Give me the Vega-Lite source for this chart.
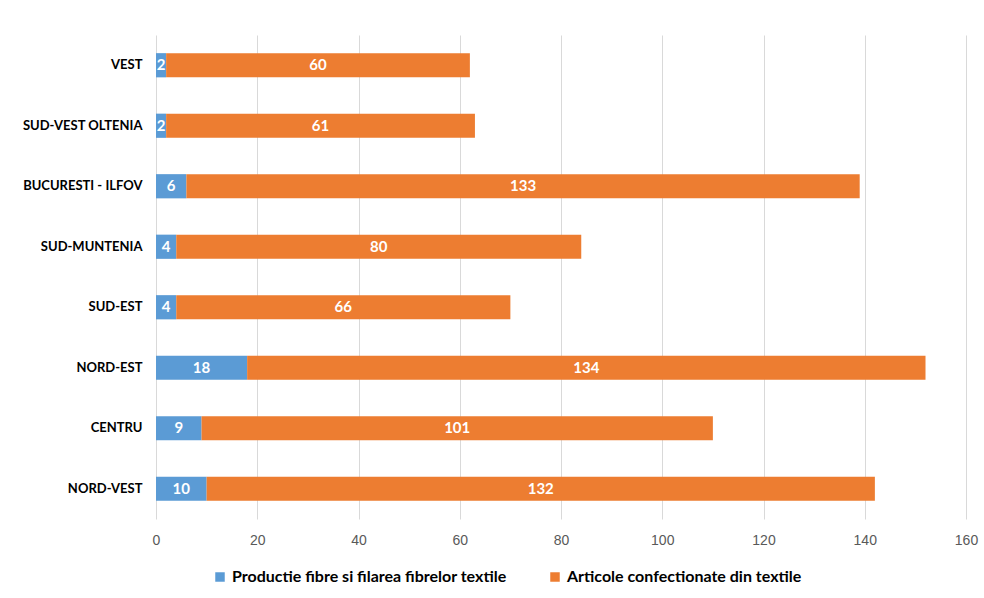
{
  "$schema": "https://vega.github.io/schema/vega-lite/v6.json",
  "width": 810,
  "height": 484,
  "autosize": {"type": "none"},
  "padding": {"left": 156, "top": 35, "right": 18, "bottom": 79},
  "background": "white",
  "config": {
    "view": {"stroke": null},
    "font": "Lato"
  },
  "data": {
    "values": [
      {"region": "VEST", "series": "Productie fibre si filarea fibrelor textile", "order": 1, "value": 2},
      {"region": "VEST", "series": "Articole confectionate din textile", "order": 2, "value": 60},
      {"region": "SUD-VEST OLTENIA", "series": "Productie fibre si filarea fibrelor textile", "order": 1, "value": 2},
      {"region": "SUD-VEST OLTENIA", "series": "Articole confectionate din textile", "order": 2, "value": 61},
      {"region": "BUCURESTI - ILFOV", "series": "Productie fibre si filarea fibrelor textile", "order": 1, "value": 6},
      {"region": "BUCURESTI - ILFOV", "series": "Articole confectionate din textile", "order": 2, "value": 133},
      {"region": "SUD-MUNTENIA", "series": "Productie fibre si filarea fibrelor textile", "order": 1, "value": 4},
      {"region": "SUD-MUNTENIA", "series": "Articole confectionate din textile", "order": 2, "value": 80},
      {"region": "SUD-EST", "series": "Productie fibre si filarea fibrelor textile", "order": 1, "value": 4},
      {"region": "SUD-EST", "series": "Articole confectionate din textile", "order": 2, "value": 66},
      {"region": "NORD-EST", "series": "Productie fibre si filarea fibrelor textile", "order": 1, "value": 18},
      {"region": "NORD-EST", "series": "Articole confectionate din textile", "order": 2, "value": 134},
      {"region": "CENTRU", "series": "Productie fibre si filarea fibrelor textile", "order": 1, "value": 9},
      {"region": "CENTRU", "series": "Articole confectionate din textile", "order": 2, "value": 101},
      {"region": "NORD-VEST", "series": "Productie fibre si filarea fibrelor textile", "order": 1, "value": 10},
      {"region": "NORD-VEST", "series": "Articole confectionate din textile", "order": 2, "value": 132}
    ]
  },
  "transform": [
    {"stack": "value", "groupby": ["region"], "sort": [{"field": "order", "order": "ascending"}], "as": ["x0", "x1"]}
  ],
  "encoding": {
    "y": {
      "field": "region",
      "type": "nominal",
      "sort": ["VEST", "SUD-VEST OLTENIA", "BUCURESTI - ILFOV", "SUD-MUNTENIA", "SUD-EST", "NORD-EST", "CENTRU", "NORD-VEST"],
      "scale": {"paddingInner": 0.6, "paddingOuter": 0.3},
      "axis": {
        "title": null,
        "domain": false,
        "ticks": false,
        "labelPadding": 14,
        "labelFont": "Lato",
        "labelFontWeight": "bold",
        "labelFontSize": 13,
        "labelColor": "#000000"
      }
    }
  },
  "layer": [
    {
      "mark": {"type": "bar"},
      "encoding": {
        "x": {
          "field": "x0",
          "type": "quantitative",
          "scale": {"domain": [0, 160], "nice": false},
          "axis": {
            "title": null,
            "values": [0, 20, 40, 60, 80, 100, 120, 140, 160],
            "domain": false,
            "ticks": false,
            "grid": true,
            "gridColor": "#d9d9d9",
            "gridWidth": 1,
            "labelFlush": false,
            "labelPadding": 14,
            "labelFontSize": 14,
            "labelColor": "#595959",
            "labelFont": "Liberation Sans"
          }
        },
        "x2": {"field": "x1"},
        "color": {
          "field": "series",
          "type": "nominal",
          "scale": {
            "domain": ["Productie fibre si filarea fibrelor textile", "Articole confectionate din textile"],
            "range": ["#5B9BD5", "#ED7D31"]
          },
          "legend": {
            "title": null,
            "orient": "none",
            "direction": "horizontal",
            "legendX": 56,
            "legendY": 534,
            "symbolType": "square",
            "symbolSize": 90,
            "symbolStrokeWidth": 0,
            "labelFontSize": 16,
            "labelFontWeight": "bold",
            "labelColor": "#000000",
            "labelFont": "Lato",
            "labelLimit": 0,
            "columnPadding": 40,
            "labelOffset": 4
          }
        }
      }
    },
    {
      "transform": [
        {"fold": ["x0", "x1"], "as": ["edge", "pos"]},
        {"aggregate": [{"op": "mean", "field": "pos", "as": "mid"}], "groupby": ["region", "series", "value"]}
      ],
      "mark": {"type": "text", "color": "white", "fontWeight": "bold", "fontSize": 15, "font": "Lato", "align": "center", "baseline": "middle"},
      "encoding": {
        "x": {"field": "mid", "type": "quantitative"},
        "text": {"field": "value", "type": "quantitative"}
      }
    }
  ]
}
